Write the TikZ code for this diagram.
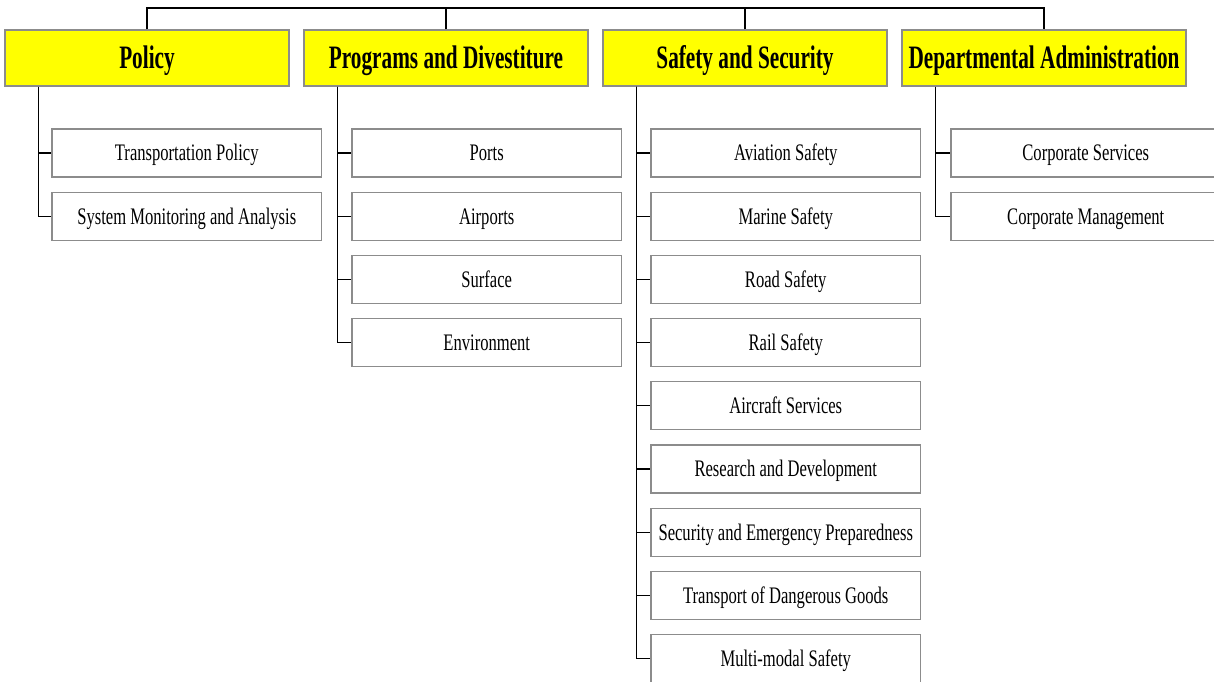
\documentclass[tikz,border=0pt]{standalone}
\usepackage{fontspec}
\setmainfont{Liberation Serif}
\newfontfamily\hdfont[FakeStretch=0.65]{Liberation Serif}
\newfontfamily\chfont[FakeStretch=0.70]{Liberation Serif}
\definecolor{boxgray}{HTML}{8C8C8C}
\definecolor{hdyellow}{HTML}{FFFF00}
\tikzset{
  head/.style={draw=boxgray, line width=1.3pt, fill=hdyellow, minimum width=284pt, minimum height=56pt,
    inner sep=0pt, text height=21.6pt, text depth=0pt, font=\hdfont\bfseries\fontsize{32.7}{36}\selectfont},
  child/.style={draw=boxgray, line width=1.2pt, fill=white, minimum width=269.5pt, minimum height=48pt,
    inner sep=0pt, text height=15.7pt, text depth=0pt, font=\chfont\fontsize{23.7}{26}\selectfont},
  conn/.style={draw=black, line width=1.3pt},
}
\begin{document}
\begin{tikzpicture}[x=1pt,y=-1pt]
\clip (0,0) rectangle (1214,681);
\fill[white] (0,0) rectangle (1214,681);
\coordinate (bus) at (0,8);
% headers
\node[head] (pol) at (147,58) {Policy};
\node[head] (prog) at (446,58) {Programs and Divestiture};
\node[head] (safe) at (745,58) {Safety and Security};
\node[head] (dept) at (1044,58) {Departmental Administration};
% top bus
\draw[conn] (pol.north) -- (pol.north |- bus) -- (dept.north |- bus) -- (dept.north);
\draw[conn] (prog.north) -- (prog.north |- bus);
\draw[conn] (safe.north) -- (safe.north |- bus);
% trunks
\coordinate (polT) at ([xshift=34pt]pol.south west);
\coordinate (progT) at ([xshift=34pt]prog.south west);
\coordinate (safeT) at ([xshift=34pt]safe.south west);
\coordinate (deptT) at ([xshift=34pt]dept.south west);
% children: Policy
\node[child] (p1) at (186.75,153) {Transportation Policy};
\node[child] (p2) at (186.75,216.2) {System Monitoring and Analysis};
% Programs
\node[child] (g1) at (486.75,153) {Ports};
\node[child] (g2) at (486.75,216.2) {Airports};
\node[child] (g3) at (486.75,279.4) {Surface};
\node[child] (g4) at (486.75,342.6) {Environment};
% Safety
\node[child] (s1) at (785.75,153) {Aviation Safety};
\node[child] (s2) at (785.75,216.2) {Marine Safety};
\node[child] (s3) at (785.75,279.4) {Road Safety};
\node[child] (s4) at (785.75,342.6) {Rail Safety};
\node[child] (s5) at (785.75,405.8) {Aircraft Services};
\node[child] (s6) at (785.75,469) {Research and Development};
\node[child] (s7) at (785.75,532.2) {Security and Emergency Preparedness};
\node[child] (s8) at (785.75,595.4) {Transport of Dangerous Goods};
\node[child] (s9) at (785.75,658.6) {Multi-modal Safety};
% Dept
\node[child] (d1) at (1085.75,153) {Corporate Services};
\node[child] (d2) at (1085.75,216.2) {Corporate Management};
% connectors
\foreach \c in {p1,p2} \draw[conn] (polT) |- (\c.west);
\foreach \c in {g1,g2,g3,g4} \draw[conn] (progT) |- (\c.west);
\foreach \c in {s1,s2,s3,s4,s5,s6,s7,s8,s9} \draw[conn] (safeT) |- (\c.west);
\foreach \c in {d1,d2} \draw[conn] (deptT) |- (\c.west);
\end{tikzpicture}
\end{document}
